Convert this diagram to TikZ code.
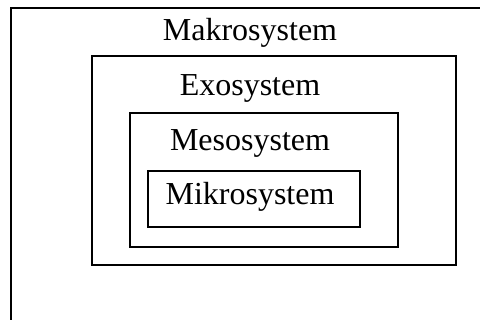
\documentclass[tikz,border=0pt]{standalone}
\usepackage{fontspec}
\setmainfont{Liberation Serif}
\tikzset{
  sysbox/.style={draw, line width=2pt, inner sep=0pt},
  syslabel/.style={anchor=base, inner sep=0pt, font=\fontsize{32}{38}\selectfont}
}

\begin{document}
\begin{tikzpicture}[x=1pt,y=-1pt]
\clip (0,0) rectangle (480,320);
\useasboundingbox (0,0) rectangle (480,320);
\fill[white] (0,0) rectangle (480,320);
\draw[line width=2pt] (11,340) -- (11,8) -- (500,8);
\node[syslabel] (makro) at (250,41) {Makrosystem};
\node[sysbox, minimum width=364pt, minimum height=209pt] (exo) at (274,160.5) {};
\node[syslabel] (exolabel) at (250,96) {Exosystem};
\node[sysbox, minimum width=268pt, minimum height=134pt] (meso) at (264,180) {};
\node[syslabel] (mesolabel) at (250,151) {Mesosystem};
\node[sysbox, minimum width=212pt, minimum height=56pt] (mikro) at (254,199) {};
\node[syslabel] (mikrolabel) at (250,205) {Mikrosystem};
\end{tikzpicture}
\end{document}
